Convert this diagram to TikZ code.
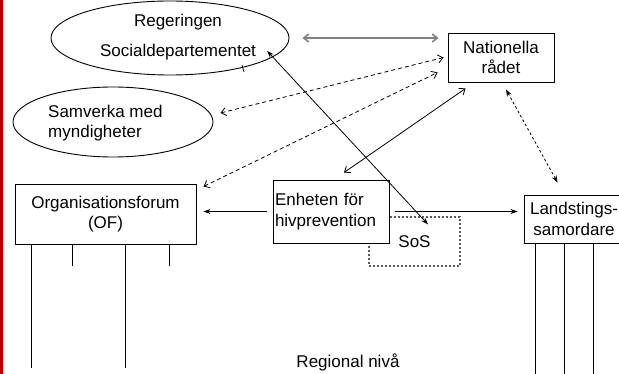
\documentclass[tikz,border=0pt]{standalone}
\usepackage{fontspec}
\setmainfont{Liberation Sans}
\usetikzlibrary{shapes.geometric,arrows.meta}

\begin{document}
\begin{tikzpicture}[x=1pt,y=-1pt]
  % Colors
  \colorlet{barcolor}{red!72!black}
  \colorlet{topcolor}{black!50}
  \colorlet{soscolor}{black!65}

  % Styles
  \tikzstyle{every node}=[font=\fontsize{17}{20.5}\selectfont]
  \tikzstyle{box}=[draw,fill=white,rectangle,inner sep=2pt,line width=0.9pt]
  \tikzstyle{oval}=[draw,ellipse,inner sep=0pt,line width=0.9pt]
  \tikzstyle{sos box}=[draw=soscolor,rectangle,line width=1.2pt,dash pattern=on 2pt off 2pt]
  \tikzstyle{open link}=[line width=0.8pt,>={Straight Barb[length=5pt,width=8pt]},<->]
  \tikzstyle{top link}=[open link,topcolor,line width=1.6pt]
  \tikzstyle{dashed link}=[open link,dash pattern=on 4pt off 3pt]
  \tikzstyle{dotted link}=[line width=0.8pt,dash pattern=on 2.5pt off 2.5pt,>={Stealth[length=7pt,width=5pt]},<->]
  \tikzstyle{solid link}=[line width=0.8pt,>={Stealth[length=7pt,width=5pt]}]
  \tikzstyle{leg}=[line width=0.8pt]

  % The graphic
  \clip (0,0) rectangle (619,374);
  \fill[barcolor] (0,0) rectangle (3,374);

  \node[oval,minimum width=238pt,minimum height=74pt] (regering) at (170,38) {};
  \node[inner sep=0pt,align=center] (regtext) at (178,37)
    {Regeringen\\[9.5pt]Socialdepartementet};
  \draw[leg] (242,65) -- (244,72);

  \node[oval,minimum width=200pt,minimum height=70pt] (samverka) at (113,122) {};
  \node[inner sep=0pt,align=left,anchor=west] (samtext) at (48,123)
    {Samverka med\\myndigheter};

  \node[box,minimum width=106pt,minimum height=49pt,align=center] (nat) at (501,57.5)
    {Nationella\\rådet};
  \node[box,minimum width=181pt,minimum height=60pt,align=center] (of) at (105.5,214)
    {Organisationsforum\\(OF)};
  \node[sos box,minimum width=91pt,minimum height=49pt] (sos) at (414.5,241.5) {SoS};
  \node[box,text width=112pt,minimum height=63pt,align=left] (ent) at (331,211.5)
    {Enheten för\\hivprevention};
  \node[box,minimum width=100pt,inner xsep=6pt,minimum height=48pt,align=center] (land) at (574,219)
    {Landstings-\\samordare};

  \node (regional) at (348,362) {Regional nivå};

  % Connections
  \draw[top link,shorten <=13pt,shorten >=9pt] (regering.east) -- (regering.east -| nat.west);
  \draw[dashed link] ([shift={(7,-9)}]samverka.east) -- ([shift={(-4,0)}]nat.west);
  \draw[dashed link] ([shift={(7,3)}]of.north east) -- ([shift={(-10,-10)}]nat.south west);
  \draw[open link] ([shift={(18,6)}]nat.south west) -- ([shift={(13,-7)}]ent.north);
  \draw[dotted link] ([shift={(5,7)}]nat.south) -- ([shift={(34,-12)}]land.north west);
  \draw[solid link,<->] ([shift={(11,14)}]regtext.east) -- ([shift={(13.5,8)}]sos.north);
  \draw[solid link,->,shorten <=6pt,shorten >=7pt] (ent.west) -- (ent.west -| of.east);
  \draw[solid link,->,shorten <=6pt,shorten >=6pt] (ent.east) -- (ent.east -| land.west);

  % Legs below the boxes
  \foreach \dx/\len in {17/124, 58/22, 111/124, 155/22}
    \draw[leg] ([xshift=\dx]of.south west) -- ++(0,\len);
  \foreach \dx in {12,41,70}
    \draw[leg] ([xshift=\dx]land.south west) -- ++(0,140);
\end{tikzpicture}
\end{document}
